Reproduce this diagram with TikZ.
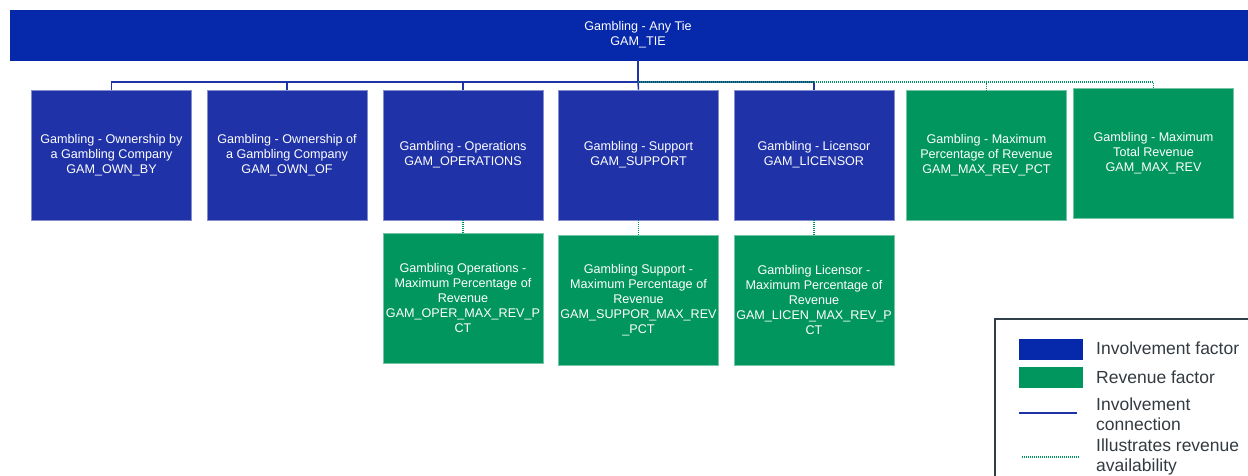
\documentclass[tikz,border=0pt]{standalone}
\usepackage{fontspec}
\setmainfont{Liberation Sans}
\usetikzlibrary{positioning}
\definecolor{tieblue}{HTML}{0628AA}
\definecolor{invblue}{HTML}{1F32A7}
\definecolor{revgreen}{HTML}{00965E}
\definecolor{framegray}{HTML}{2F3F4A}
\definecolor{keytext}{HTML}{333A40}

\begin{document}
\begin{tikzpicture}[x=1pt, y=-1pt,
    inv/.style={fill=invblue, draw=invblue!55!white, line width=0.8pt, text=white,
        minimum width=160pt, minimum height=130pt, inner sep=0pt, align=center,
        font=\fontsize{12.6}{15}\selectfont},
    rev/.style={inv, fill=revgreen, draw=revgreen!55!white},
    invline/.style={draw=invblue, line width=1.5pt},
    revline/.style={draw=revgreen, line width=1.5pt, dash pattern=on 1pt off 1pt},
    keybox/.style={minimum width=64pt, minimum height=21pt, inner sep=0pt},
    keytxt/.style={anchor=west, align=left, text=keytext, inner sep=0pt,
        font=\fontsize{17.5}{20}\selectfont}]
    \useasboundingbox (0,0) rectangle (1248,476);

    % top factor
    \node (tie) [inv, fill=tieblue, draw=tieblue, minimum width=1256pt, minimum height=50pt] at (638,35) {Gambling - Any Tie\\GAM\_TIE};
    \coordinate (bus) at (638,82);

    % involvement factors
    \node (ownby) [inv] at (111.5,155) {Gambling - Ownership by\\a Gambling Company\\GAM\_OWN\_BY};
    \node (ownof) [inv] at (287,155) {Gambling - Ownership of\\a Gambling Company\\GAM\_OWN\_OF};
    \node (oper)  [inv] at (463,155) {Gambling - Operations\\GAM\_OPERATIONS};
    \node (supp)  [inv] at (638.5,155) {Gambling - Support\\GAM\_SUPPORT};
    \node (lic)   [inv] at (814,155) {Gambling - Licensor\\GAM\_LICENSOR};

    % revenue factors
    \node (maxpct) [rev] at (986.5,155.5) {Gambling - Maximum\\Percentage of Revenue\\GAM\_MAX\_REV\_PCT};
    \node (maxrev) [rev] at (1153.5,153.5) {Gambling - Maximum\\Total Revenue\\GAM\_MAX\_REV};
    \node (operpct) [rev] at (463,298) {Gambling Operations -\\Maximum Percentage of\\Revenue\\GAM\_OPER\_MAX\_REV\_P\\CT};
    \node (supppct) [rev] at (638.5,300) {Gambling Support -\\Maximum Percentage of\\Revenue\\GAM\_SUPPOR\_MAX\_REV\\\_PCT};
    \node (licpct)  [rev] at (814,300) {Gambling Licensor -\\Maximum Percentage of\\Revenue\\GAM\_LICEN\_MAX\_REV\_P\\CT};

    \draw [invline] (tie.south) -- (bus);
    \draw [invline] (bus) -| (ownby.north);
    \draw [invline] (bus) -| (ownof.north);
    \draw [invline] (bus) -| (oper.north);
    \draw [invline] (bus) -- (supp.north);
    \draw [invline] (bus) -| (lic.north);

    \draw [revline] (bus) -| (maxpct.north);
    \draw [revline] (bus) -| (maxrev.north);
    \draw [revline] (oper.south) -- (operpct.north);
    \draw [revline] (supp.south) -- (supppct.north);
    \draw [revline] (lic.south) -- (licpct.north);

    % legend
    \draw [framegray, line width=1.8pt] (995,319) rectangle (1262,490);
    \node (kinv) [keybox, fill=tieblue] at (1051,349.5) {};
    \node (krev) [keybox, fill=revgreen] at (1051,377.5) {};
    \coordinate (kl1) at (1019,413);
    \coordinate (kl2) at (1077,413);
    \coordinate (kd1) at (1022,457);
    \coordinate (kd2) at (1080,457);
    \draw [invline, line width=1.2pt] (kl1) -- (kl2);
    \draw [revline, line width=1.2pt] (kd1) -- (kd2);
    \node [keytxt] at (1096,348) {Involvement factor};
    \node [keytxt] at (1096,377) {Revenue factor};
    \node [keytxt] at (1096,414) {Involvement\\connection};
    \node [keytxt] at (1096,457) {Illustrates revenue\\availability};
\end{tikzpicture}
\end{document}
